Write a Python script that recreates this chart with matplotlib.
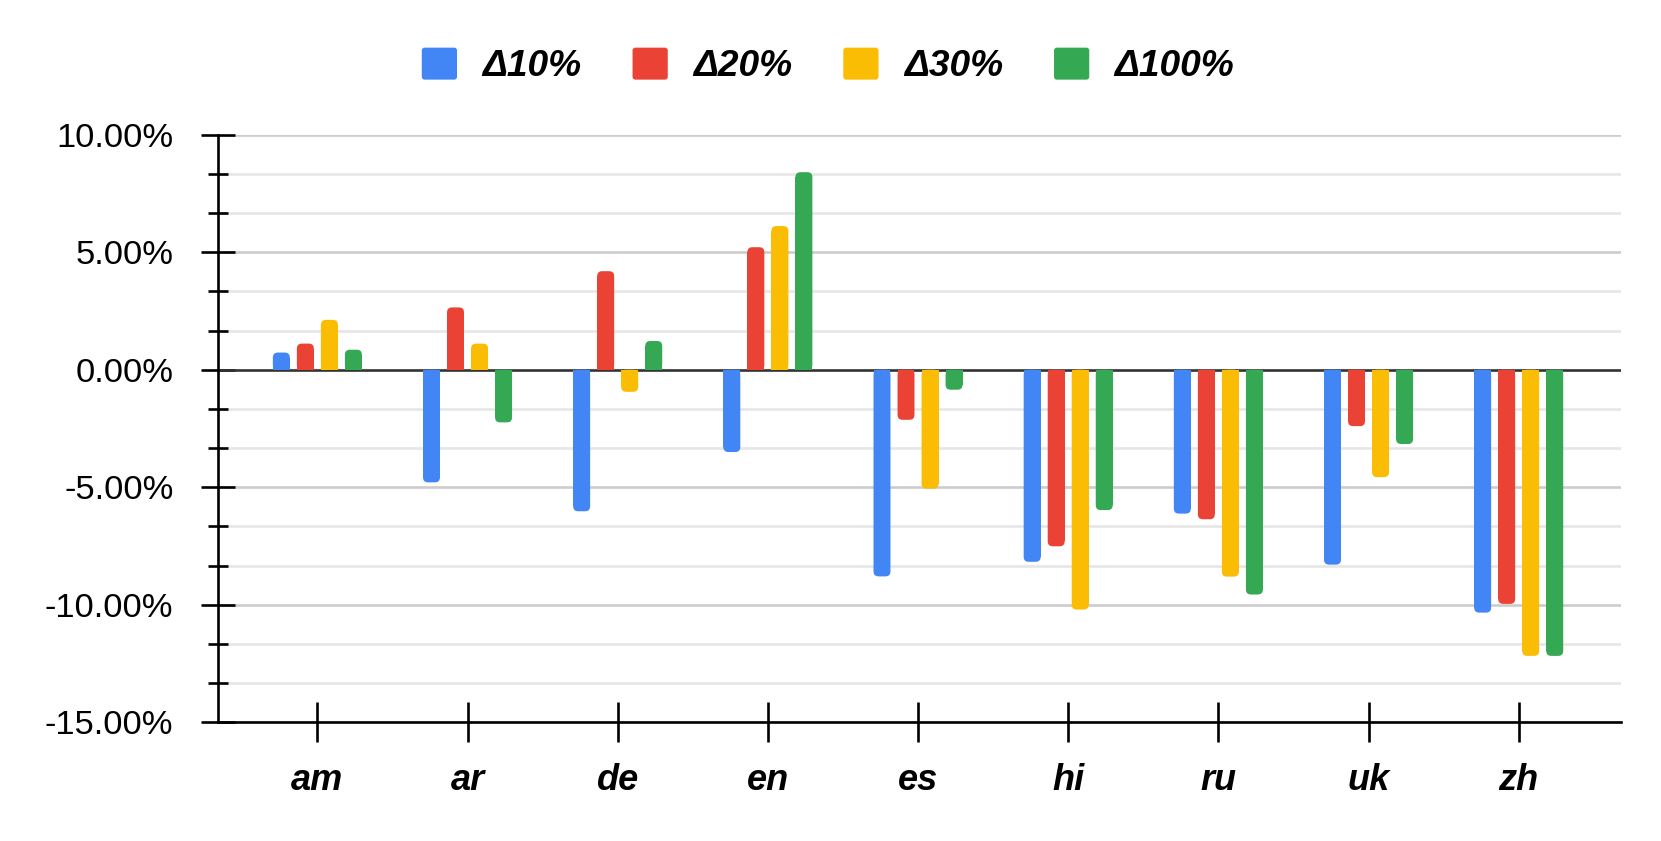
import matplotlib
matplotlib.use("Agg")
import matplotlib.pyplot as plt
import numpy as np
from matplotlib.patches import FancyBboxPatch
from matplotlib.legend_handler import HandlerPatch

plt.rcParams['font.family'] = ['Liberation Sans', 'DejaVu Sans']

categories = ["am", "ar", "de", "en", "es", "hi", "ru", "uk", "zh"]
series_names = ["Δ10%", "Δ20%", "Δ30%", "Δ100%"]
d10 = [0.73, -4.79, -6.02, -3.50, -8.79, -8.17, -6.12, -8.29, -10.33]
d20 = [1.11, 2.65, 4.19, 5.21, -2.13, -7.51, -6.36, -2.40, -9.96]
d30 = [2.12, 1.11, -0.94, 6.11, -5.06, -10.20, -8.80, -4.57, -12.17]
d100 = [0.85, -2.24, 1.22, 8.40, -0.85, -5.97, -9.56, -3.16, -12.17]
yticks_major = [-15, -10, -5, 0, 5, 10]

colors = ["#4285F4", "#EA4335", "#FBBC04", "#34A853"]
series = [d10, d20, d30, d100]

W, H = 16.61, 8.41
fig = plt.figure(figsize=(W, H), dpi=100)
ax_rect = [0.1314, 0.141, 0.8444, 0.699]
ax = fig.add_axes(ax_rect)

xlim = (-0.66, 8.68)
ylim = (-15, 10)
ax.set_xlim(*xlim)
ax.set_ylim(*ylim)

# data units per pixel
ux = (xlim[1] - xlim[0]) / (ax_rect[2] * W * 100)
uy = (ylim[1] - ylim[0]) / (ax_rect[3] * H * 100)
r_px = 5.0
rx = r_px * ux
ry = r_px * uy

x = np.arange(len(categories))
step = 0.16
width = 0.113
for i, (vals, c) in enumerate(zip(series, colors)):
    bars = ax.bar(x + (i - 1.5) * step, vals, width=width, color=c, zorder=3,
                  linewidth=0, label=series_names[i])
    for rect in bars:
        bx, by = rect.get_x(), rect.get_y()
        bw, bh = rect.get_width(), rect.get_height()
        y0 = min(by, by + bh)
        hh = abs(bh)
        fb = FancyBboxPatch((bx, y0), bw, hh,
                            boxstyle=f"round,pad=0,rounding_size={rx}",
                            mutation_aspect=uy / ux, facecolor=c,
                            edgecolor='none', zorder=3)
        ax.add_patch(fb)
        sign = 1 if bh >= 0 else -1
        rect.set_height(bh - sign * min(ry, hh / 2))

# gridlines
minor = np.arange(-15, 10.01, 5 / 3)
for v in minor:
    if abs(v - round(v / 5) * 5) < 1e-6:
        continue
    ax.axhline(v, color="#e6e6e6", lw=1.9, zorder=1)
for v in yticks_major:
    if v == 0:
        continue
    ax.axhline(v, color="#cccccc", lw=1.9, zorder=1)
ax.axhline(0, color="#333333", lw=1.9, zorder=2)

ax.set_yticks(yticks_major)
ax.set_yticklabels([f"{v:.2f}%" for v in yticks_major], fontsize=24.8)
ax.set_yticks(minor, minor=True)
ax.tick_params(axis='y', which='major', direction='inout', length=24.5, width=1.9,
               pad=20, color='black')
ax.tick_params(axis='y', which='minor', direction='inout', length=14, width=1.9,
               color='black')

ax.set_xticks(x)
ax.set_xticklabels(categories, fontsize=26, fontweight='bold', fontstyle='italic')
ax.tick_params(axis='x', which='major', direction='inout', length=28.5, width=1.9,
               pad=15, color='black')

for s in ['top', 'right']:
    ax.spines[s].set_visible(False)
for s in ['left', 'bottom']:
    ax.spines[s].set_linewidth(1.9)
    ax.spines[s].set_color('black')
    ax.spines[s].set_zorder(4)


class RoundSquareHandler(HandlerPatch):
    def create_artists(self, legend, orig_handle, xdescent, ydescent, width,
                       height, fontsize, trans):
        p = FancyBboxPatch((-xdescent, -ydescent), width, height,
                           boxstyle=f"round,pad=0,rounding_size={0.08 * width}",
                           facecolor=orig_handle.get_facecolor(),
                           edgecolor='none', transform=trans)
        return [p]


handles = [FancyBboxPatch((0, 0), 1, 1, facecolor=c, edgecolor='none', label=n)
           for c, n in zip(colors, series_names)]
leg = fig.legend(handles=handles, loc='center', bbox_to_anchor=(0.4985, 0.9215),
                 ncol=4, frameon=False, handlelength=0.95, handleheight=0.95,
                 handletextpad=0.68, columnspacing=1.38,
                 handler_map={FancyBboxPatch: RoundSquareHandler()},
                 prop={'size': 26.7, 'weight': 'bold', 'style': 'italic'})

fig.savefig("out.png", dpi=100, facecolor='white')
